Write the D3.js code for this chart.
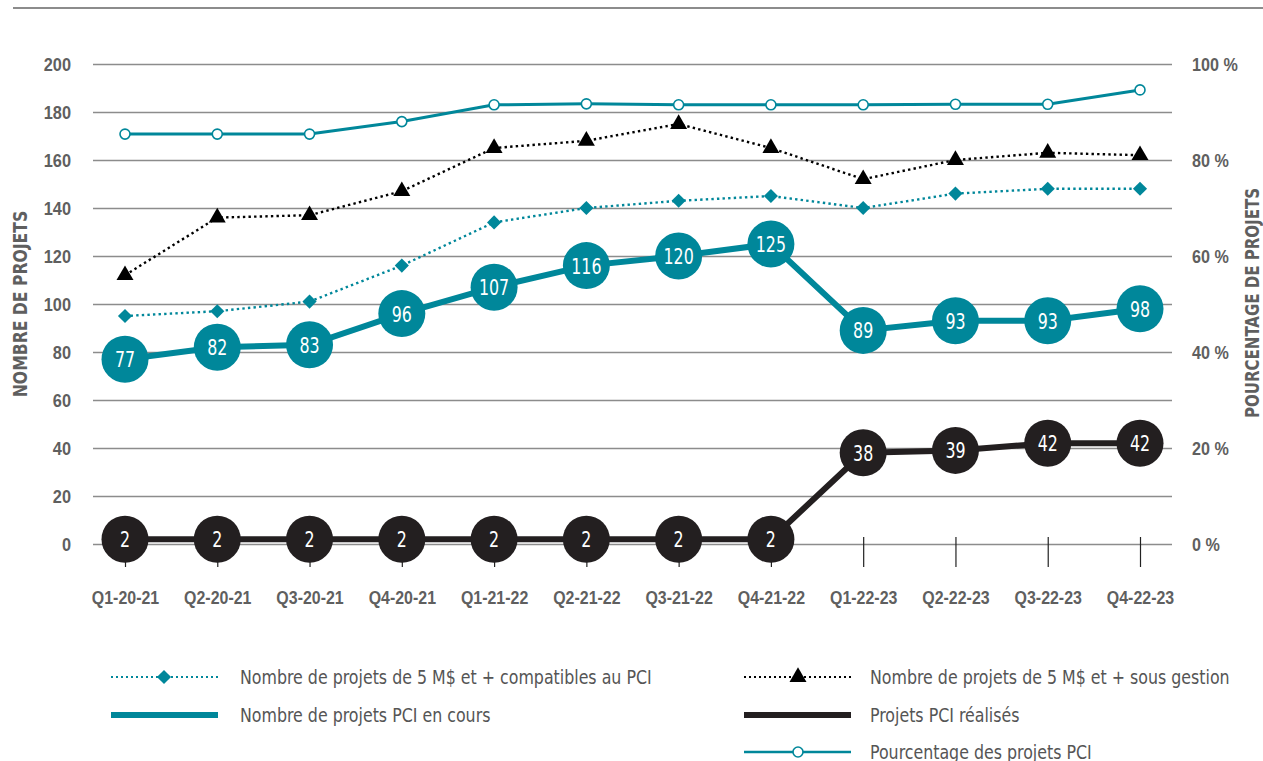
<!DOCTYPE html>
<html>
<head>
<meta charset="utf-8">
<script src="https://cdn.jsdelivr.net/npm/d3@7"></script>
<style>
  body { margin: 0; background: #fff; }
  svg { display: block; font-family: "Liberation Sans Narrow", "DejaVu Sans Condensed", "DejaVu Sans", sans-serif; font-stretch: condensed; }
  .tick-label { font-weight: bold; fill: #5f5f5f; font-size: 19px; }
</style>
</head>
<body>
<svg id="chart" width="1263" height="761"></svg>
<script>
const quarters = ["Q1-20-21", "Q2-20-21", "Q3-20-21", "Q4-20-21", "Q1-21-22", "Q2-21-22",
  "Q3-21-22", "Q4-21-22", "Q1-22-23", "Q2-22-23", "Q3-22-23", "Q4-22-23"];
const sousGestion = [112, 136, 137, 147, 165, 168, 175, 165, 152, 160, 163, 162];
const compatibles = [95, 97, 101, 116, 134, 140, 143, 145, 140, 146, 148, 148];
const enCours = [77, 82, 83, 96, 107, 116, 120, 125, 89, 93, 93, 98];
const realises = [2, 2, 2, 2, 2, 2, 2, 2, 38, 39, 42, 42];
const pourcentage = [85.4, 85.4, 85.4, 88, 91.5, 91.7, 91.5, 91.5, 91.5, 91.6, 91.6, 94.6];
const leftTicks = [0, 20, 40, 60, 80, 100, 120, 140, 160, 180, 200];
const rightTicks = [0, 20, 40, 60, 80, 100];

const TEAL = "#00879a";
const DARK = "#231f20";
const GRID = "#8c8c8c";

const svg = d3.select("#chart");
const dims = { left: 93, right: 1172, top: 64, bottom: 544 };

const x = d3.scalePoint().domain(quarters).range([125, 1140]);
const y = d3.scaleLinear().domain([0, 200]).range([dims.bottom, dims.top]);
const yPct = d3.scaleLinear().domain([0, 100]).range([dims.bottom, dims.top]);

// the installed fonts are wider than the original condensed face, squeeze text horizontally
const condense = (sel, k) => sel.each(function() {
  const t = d3.select(this);
  const tx = +t.attr("x") || 0;
  const ty = +t.attr("y") || 0;
  const prev = t.attr("transform") || "";
  t.attr("x", 0).attr("y", 0)
    .attr("transform", `${prev} translate(${tx},${ty}) scale(${k},1)`);
});

// top rule
svg.append("line")
  .attr("x1", 13).attr("x2", 1263).attr("y1", 8).attr("y2", 8)
  .attr("stroke", GRID).attr("stroke-width", 2);

const drawAxes = () => {
  const left = svg.append("g")
    .attr("transform", `translate(${dims.left},0)`)
    .call(d3.axisLeft(y).tickValues(leftTicks).tickSize(-(dims.right - dims.left)).tickPadding(22));
  left.select(".domain").remove();
  left.selectAll("line").attr("stroke", GRID).attr("stroke-width", 1.6);
  left.selectAll("text").attr("class", "tick-label").attr("font-family", null).attr("font-size", null)
    .call(condense, 0.86);

  const right = svg.append("g")
    .attr("transform", `translate(${dims.right},0)`)
    .call(d3.axisRight(yPct).tickValues(rightTicks).tickSize(0).tickPadding(20).tickFormat(d => `${d} %`));
  right.select(".domain").remove();
  right.selectAll("text").attr("class", "tick-label").attr("font-family", null).attr("font-size", null)
    .call(condense, 0.85);

  const bottom = svg.append("g")
    .attr("transform", `translate(0,${dims.bottom - 7})`)
    .call(d3.axisBottom(x).tickSize(30).tickPadding(23));
  bottom.select(".domain").remove();
  bottom.selectAll("line").attr("stroke", "#222").attr("stroke-width", 1.2);
  bottom.selectAll("text").attr("class", "tick-label").attr("font-family", null).attr("font-size", null)
    .call(condense, 0.84);

  svg.append("text")
    .attr("transform", `translate(27,304) rotate(-90)`)
    .attr("text-anchor", "middle")
    .attr("class", "tick-label")
    .style("font-size", "20px")
    .text("NOMBRE DE PROJETS")
    .call(condense, 0.87);

  svg.append("text")
    .attr("transform", `translate(1259,303) rotate(-90)`)
    .attr("text-anchor", "middle")
    .attr("class", "tick-label")
    .style("font-size", "19px")
    .text("POURCENTAGE DE PROJETS")
    .call(condense, 0.88);
};

const lineFor = scale => d3.line().x((d, i) => x(quarters[i])).y(d => scale(d));

const drawSeries = () => {
  // compatibles: dotted teal with diamonds
  svg.append("path").datum(compatibles)
    .attr("d", lineFor(y)).attr("fill", "none")
    .attr("stroke", TEAL).attr("stroke-width", 2.4).attr("stroke-dasharray", "2.4,3.2");
  svg.selectAll(".diamond").data(compatibles).join("path")
    .attr("class", "diamond")
    .attr("d", d3.symbol().type(d3.symbolSquare).size(100))
    .attr("transform", (d, i) => `translate(${x(quarters[i])},${y(d)}) rotate(45)`)
    .attr("fill", TEAL);

  // sous gestion: dotted black with triangles
  svg.append("path").datum(sousGestion)
    .attr("d", lineFor(y)).attr("fill", "none")
    .attr("stroke", "#000").attr("stroke-width", 2.4).attr("stroke-dasharray", "2.4,3.2");
  svg.selectAll(".tri").data(sousGestion).join("path")
    .attr("class", "tri")
    .attr("d", d3.symbol().type(d3.symbolTriangle).size(125))
    .attr("transform", (d, i) => `translate(${x(quarters[i])},${y(d)})`)
    .attr("fill", "#000");

  // pourcentage: thin teal with open circles
  svg.append("path").datum(pourcentage)
    .attr("d", lineFor(yPct)).attr("fill", "none")
    .attr("stroke", TEAL).attr("stroke-width", 3);
  svg.selectAll(".pct").data(pourcentage).join("circle")
    .attr("class", "pct")
    .attr("cx", (d, i) => x(quarters[i])).attr("cy", d => yPct(d)).attr("r", 5)
    .attr("fill", "#fff").attr("stroke", TEAL).attr("stroke-width", 1.6);

  // labelled bubbles
  [[realises, DARK, "real"], [enCours, TEAL, "cours"]].forEach(([values, color, cls]) => {
    svg.append("path").datum(values)
      .attr("d", lineFor(y)).attr("fill", "none")
      .attr("stroke", color).attr("stroke-width", 6);
    const g = svg.selectAll(`.${cls}`).data(values).join("g")
      .attr("class", cls)
      .attr("transform", (d, i) => `translate(${x(quarters[i])},${y(d)})`);
    g.append("circle").attr("r", 23.5).attr("fill", color);
    g.append("text")
      .attr("text-anchor", "middle").attr("dy", "0.36em")
      .attr("fill", "#fff").style("font-size", "22px")
      .text(d => d)
      .call(condense, 0.8);
  });
};

const drawLegend = () => {
  const items = [
    { x: 111, y: 677, type: "diamond", color: TEAL, label: "Nombre de projets de 5 M$ et + compatibles au PCI" },
    { x: 111, y: 715, type: "thick", color: TEAL, label: "Nombre de projets PCI en cours" },
    { x: 744, y: 677, type: "triangle", color: "#000", label: "Nombre de projets de 5 M$ et + sous gestion" },
    { x: 744, y: 715, type: "thick", color: DARK, label: "Projets PCI réalisés" },
    { x: 744, y: 752, type: "circle", color: TEAL, label: "Pourcentage des projets PCI" }
  ];
  const g = svg.selectAll(".legend").data(items).join("g")
    .attr("class", "legend")
    .attr("transform", d => `translate(${d.x},${d.y})`);

  g.append("line")
    .attr("x1", 0).attr("x2", 107).attr("y1", 0).attr("y2", 0)
    .attr("stroke", d => d.color)
    .attr("stroke-width", d => d.type === "thick" ? 6 : (d.type === "circle" ? 2.5 : 2))
    .attr("stroke-dasharray", d => (d.type === "diamond" || d.type === "triangle") ? "2,3" : null);

  g.filter(d => d.type === "diamond").append("path")
    .attr("d", d3.symbol().type(d3.symbolSquare).size(100))
    .attr("transform", "translate(53,0) rotate(45)").attr("fill", TEAL);
  g.filter(d => d.type === "triangle").append("path")
    .attr("d", d3.symbol().type(d3.symbolTriangle).size(125))
    .attr("transform", "translate(54,0)").attr("fill", "#000");
  g.filter(d => d.type === "circle").append("circle")
    .attr("cx", 54).attr("r", 5).attr("fill", "#fff").attr("stroke", TEAL).attr("stroke-width", 1.6);

  g.append("text")
    .attr("x", d => d.x === 111 ? 129 : 126).attr("dy", "0.35em")
    .attr("fill", "#555").style("font-size", "20px")
    .text(d => d.label)
    .call(condense, 0.88);
};

drawAxes();
drawSeries();
drawLegend();
</script>
</body>
</html>
